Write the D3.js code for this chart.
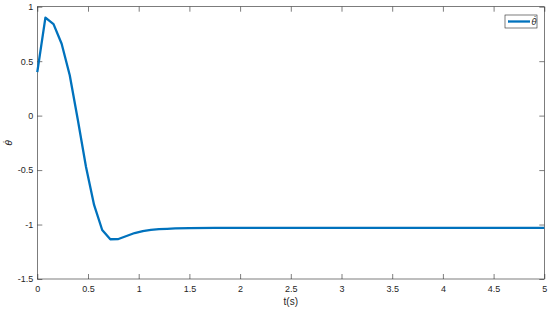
<!DOCTYPE html>
<html>
<head>
<meta charset="utf-8">
<script src="https://cdn.jsdelivr.net/npm/d3@7"></script>
<style>
  body { margin: 0; background: #fff; }
  text { font-family: "Liberation Sans", Arial, sans-serif; }
  text.sym { font-family: "DejaVu Sans", sans-serif; }
</style>
</head>
<body>
<svg id="chart"></svg>
<script>
// time samples (s) and theta-dot values
const tValues = [0, 0.08, 0.16, 0.24, 0.32, 0.40, 0.48, 0.56, 0.64, 0.72, 0.80, 0.88, 0.96, 1.04, 1.12, 1.20, 1.28, 1.36, 1.50, 1.75, 2.0, 2.5, 3.0, 3.5, 4.0, 4.5, 5.0];
const thetaDot = [0.40, 0.90, 0.84, 0.66, 0.37, -0.04, -0.47, -0.82, -1.05, -1.135, -1.133, -1.105, -1.078, -1.060, -1.049, -1.043, -1.039, -1.036, -1.033, -1.031, -1.030, -1.030, -1.030, -1.030, -1.030, -1.030, -1.030];
const xTicks = [0, 0.5, 1, 1.5, 2, 2.5, 3, 3.5, 4, 4.5, 5];
const yTicks = [-1.5, -1, -0.5, 0, 0.5, 1];

const dim = { w: 550, h: 311, l: 37.3, r: 544.3, t: 6.7, b: 279 },
  $svg = d3.select('#chart').attr('width', dim.w).attr('height', dim.h);

const xScale = d3.scaleLinear().domain([0, 5]).range([dim.l, dim.r]),
  yScale = d3.scaleLinear().domain([-1.5, 1]).range([dim.b, dim.t]),
  axisColor = '#262626';

// box
$svg.append('rect')
  .attr('x', dim.l).attr('y', dim.t)
  .attr('width', dim.r - dim.l).attr('height', dim.b - dim.t)
  .attr('fill', 'none').attr('stroke', axisColor).attr('stroke-width', 0.6);

const styleAxis = (g) => {
  g.select('.domain').remove();
  g.selectAll('line').attr('stroke', axisColor).attr('stroke-width', 0.6);
  g.selectAll('text').attr('fill', axisColor).attr('font-size', 9);
};

$svg.append('g')
  .attr('transform', 'translate(0,' + dim.b + ')')
  .call(d3.axisBottom(xScale).tickValues(xTicks).tickSizeInner(-5).tickSizeOuter(0).tickPadding(7).tickFormat(d3.format('')))
  .call(styleAxis);
$svg.append('g')
  .attr('transform', 'translate(0,' + dim.t + ')')
  .call(d3.axisTop(xScale).tickValues(xTicks).tickSizeInner(-5).tickSizeOuter(0).tickFormat(''))
  .call(styleAxis);
$svg.append('g')
  .attr('transform', 'translate(' + dim.l + ',0)')
  .call(d3.axisLeft(yScale).tickValues(yTicks).tickSizeInner(-5).tickSizeOuter(0).tickPadding(4).tickFormat(d3.format('')))
  .call(styleAxis);
$svg.append('g')
  .attr('transform', 'translate(' + dim.r + ',0)')
  .call(d3.axisRight(yScale).tickValues(yTicks).tickSizeInner(-5).tickSizeOuter(0).tickFormat(''))
  .call(styleAxis);

// plain hyphen minus like MATLAB
$svg.selectAll('.tick text').text(function() { return d3.select(this).text().replace('\u2212', '-'); });

// labels
$svg.append('text')
  .text('t(s)')
  .attr('x', (dim.l + dim.r) / 2).attr('y', 305)
  .attr('text-anchor', 'middle').attr('font-size', 10).attr('fill', axisColor);
$svg.append('text')
  .attr('class', 'sym')
  .text('\u03B8\u0307')
  .attr('transform', 'translate(12,' + ((dim.t + dim.b) / 2) + ') rotate(-90)')
  .attr('text-anchor', 'middle').attr('font-size', 9)
  .attr('font-style', 'italic').attr('fill', axisColor);

// series
const line = d3.line().x((d, i) => xScale(tValues[i])).y((d) => yScale(d));
$svg.append('path')
  .datum(thetaDot)
  .attr('d', line)
  .attr('fill', 'none')
  .attr('stroke', '#0072BD')
  .attr('stroke-width', 2.3)
  .attr('stroke-linejoin', 'round');

// legend
const $legend = $svg.append('g').attr('transform', 'translate(505,15)');
$legend.append('rect')
  .attr('width', 32).attr('height', 13)
  .attr('fill', '#fff').attr('stroke', axisColor).attr('stroke-width', 0.6);
$legend.append('line')
  .attr('x1', 3).attr('x2', 25).attr('y1', 6.5).attr('y2', 6.5)
  .attr('stroke', '#0072BD').attr('stroke-width', 2.3);
$legend.append('text')
  .attr('class', 'sym')
  .text('\u03B8\u0307')
  .attr('x', 26.5).attr('y', 10)
  .attr('font-size', 8.5).attr('font-style', 'italic').attr('fill', axisColor);
</script>
</body>
</html>
